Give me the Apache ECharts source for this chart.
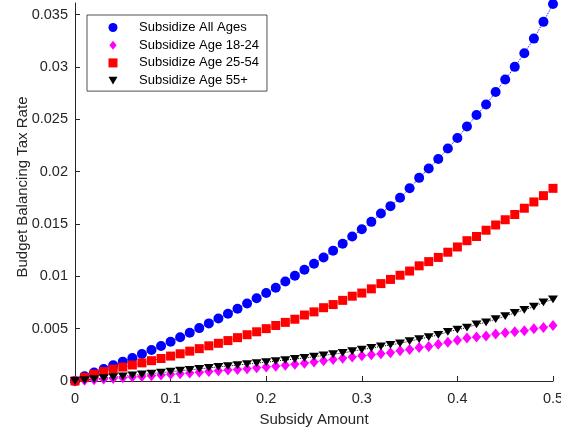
<!DOCTYPE html>
<html>
<head>
<meta charset="utf-8">
<script src="https://cdn.jsdelivr.net/npm/echarts@6/dist/echarts.min.js"></script>
<style>
  html, body { margin: 0; padding: 0; background: #fff; }
  #chart { width: 561px; height: 433px; }
</style>
</head>
<body>
<div id="chart"></div>
<script>
// Subsidy levels (x) and the budget-balancing tax rate for each policy
const subsidy = [0, 0.01, 0.02, 0.03, 0.04, 0.05, 0.06, 0.07, 0.08, 0.09,
  0.10, 0.11, 0.12, 0.13, 0.14, 0.15, 0.16, 0.17, 0.18, 0.19,
  0.20, 0.21, 0.22, 0.23, 0.24, 0.25, 0.26, 0.27, 0.28, 0.29,
  0.30, 0.31, 0.32, 0.33, 0.34, 0.35, 0.36, 0.37, 0.38, 0.39,
  0.40, 0.41, 0.42, 0.43, 0.44, 0.45, 0.46, 0.47, 0.48, 0.49, 0.50];

const allAges = [0, 0.00045, 0.00082, 0.00115, 0.0015, 0.00185, 0.0022, 0.00258, 0.00296, 0.00335,
  0.00374, 0.00417, 0.0046, 0.00505, 0.0055, 0.00597, 0.00643, 0.0069, 0.0074, 0.0079,
  0.0084, 0.0089, 0.0095, 0.01005, 0.01063, 0.0112, 0.0118, 0.01245, 0.0131, 0.0138,
  0.0145, 0.0152, 0.016, 0.0167, 0.0175, 0.0184, 0.0194, 0.0203, 0.0212, 0.0222,
  0.0232, 0.0243, 0.0254, 0.0264, 0.0276, 0.0288, 0.03, 0.0313, 0.0327, 0.0343, 0.036];

const age18to24 = [0, 0.00006, 0.00013, 0.00019, 0.00025, 0.00032, 0.00038, 0.00044, 0.00051, 0.00057,
  0.00064, 0.0007, 0.00077, 0.00083, 0.0009, 0.00097, 0.00104, 0.00111, 0.00118, 0.00126,
  0.00134, 0.00142, 0.0015, 0.0016, 0.0017, 0.00182, 0.00194, 0.00206, 0.00218, 0.0023,
  0.0024, 0.0025, 0.0026, 0.0027, 0.0029, 0.003, 0.0032, 0.0033, 0.0035, 0.0037,
  0.0039, 0.0041, 0.0042, 0.0043, 0.0045, 0.0046, 0.0047, 0.0048, 0.005, 0.0051, 0.0053];

const age25to54 = [0, 0.00035, 0.00065, 0.0009, 0.00113, 0.00133, 0.00153, 0.00173, 0.00194, 0.00215,
  0.00238, 0.0026, 0.00285, 0.00309, 0.00336, 0.0036, 0.00386, 0.00414, 0.00442, 0.0047,
  0.005, 0.0053, 0.0056, 0.0059, 0.0063, 0.0066, 0.007, 0.0073, 0.0077, 0.0081,
  0.0084, 0.0088, 0.0093, 0.0097, 0.0101, 0.0105, 0.011, 0.0114, 0.0118, 0.0123,
  0.0128, 0.0134, 0.0138, 0.0144, 0.0149, 0.0154, 0.0159, 0.0165, 0.0171, 0.0177, 0.0184];

const age55plus = [0, 0.00009, 0.00018, 0.00027, 0.00036, 0.00045, 0.00054, 0.00062, 0.00071, 0.0008,
  0.00089, 0.00098, 0.00107, 0.00116, 0.00125, 0.00134, 0.00143, 0.00152, 0.00161, 0.0017,
  0.0018, 0.0019, 0.002, 0.0021, 0.0022, 0.00232, 0.00244, 0.00256, 0.00268, 0.00284,
  0.003, 0.00315, 0.0033, 0.00345, 0.0036, 0.0038, 0.004, 0.0042, 0.0044, 0.0047,
  0.0049, 0.0051, 0.0054, 0.0056, 0.0059, 0.0062, 0.0065, 0.0068, 0.0071, 0.0075, 0.0078];

const seriesNames = ['Subsidize All Ages', 'Subsidize Age 18-24', 'Subsidize Age 25-54', 'Subsidize Age 55+'];

const xTicks = [0, 0.1, 0.2, 0.3, 0.4, 0.5];
const yTicks = [0, 0.005, 0.01, 0.015, 0.02, 0.025, 0.03, 0.035];

const FONT = '"Liberation Sans", Helvetica, Arial, sans-serif';
const AXIS_COLOR = '#262626';
const DOWN_TRIANGLE = 'path://M0,0L10,0L5,8.66Z';

function pairs(values) {
  return subsidy.map((x, i) => [x, values[i]]);
}

function markerSeries(name, values, color, symbol, size) {
  return {
    name: name,
    type: 'line',
    data: pairs(values),
    symbol: symbol,
    symbolSize: size,
    showSymbol: true,
    showAllSymbol: true,
    symbolKeepAspect: true,
    clip: false,
    itemStyle: { color: color, borderWidth: 0 },
    lineStyle: { color: color, width: 1, type: 'dotted' },
    emphasis: { disabled: true },
    z: 2
  };
}

const chart = echarts.init(document.getElementById('chart'), null, { renderer: 'canvas' });

chart.setOption({
  animation: false,
  backgroundColor: '#fff',
  textStyle: { fontFamily: FONT },
  grid: { left: 75, right: 8, top: 3, bottom: 52, containLabel: false, outerBoundsMode: 'none' },
  legend: {
    orient: 'vertical',
    left: 87,
    top: 15,
    padding: [6, 8, 4, 21.5],
    itemWidth: 9,
    itemHeight: 9,
    itemGap: 4.7,
    backgroundColor: '#fff',
    borderColor: AXIS_COLOR,
    borderWidth: 0.8,
    selectedMode: false,
    textStyle: { fontFamily: FONT, fontSize: 13, color: '#000', padding: [0, 0, 0, 16.5] },
    data: [
      { name: seriesNames[0], icon: 'circle' },
      { name: seriesNames[1], icon: 'path://M4,0L8,5L4,10L0,5Z' },
      { name: seriesNames[2], icon: 'path://M0,0L8,0L8,8L0,8Z' },
      { name: seriesNames[3], icon: DOWN_TRIANGLE }
    ]
  },
  xAxis: {
    type: 'value',
    min: 0,
    max: 0.5,
    interval: 0.1,
    name: 'Subsidy Amount',
    nameLocation: 'middle',
    nameGap: 31,
    nameMoveOverlap: false,
    nameTextStyle: { fontFamily: FONT, fontSize: 15, color: AXIS_COLOR },
    axisLine: { show: true, onZero: false, lineStyle: { color: AXIS_COLOR, width: 1 } },
    axisTick: { show: true, inside: true, length: 5, customValues: xTicks, lineStyle: { color: AXIS_COLOR } },
    axisLabel: { customValues: xTicks, margin: 10, fontFamily: FONT, fontSize: 14.5, color: AXIS_COLOR },
    splitLine: { show: false }
  },
  yAxis: {
    type: 'value',
    min: 0,
    max: 0.0361,
    name: 'Budget Balancing Tax Rate',
    nameLocation: 'middle',
    nameGap: 45,
    nameMoveOverlap: false,
    nameTextStyle: { fontFamily: FONT, fontSize: 15, color: AXIS_COLOR, padding: [0, 0, 0, 10] },
    axisLine: { show: true, onZero: false, lineStyle: { color: AXIS_COLOR, width: 1 } },
    axisTick: { show: true, inside: true, length: 5, customValues: yTicks, lineStyle: { color: AXIS_COLOR } },
    axisLabel: { customValues: yTicks, margin: 7, fontFamily: FONT, fontSize: 14.5, color: AXIS_COLOR },
    splitLine: { show: false }
  },
  series: [
    markerSeries(seriesNames[0], allAges, '#0000ff', 'circle', 10),
    markerSeries(seriesNames[1], age18to24, '#ff00ff', 'diamond', [9, 11]),
    markerSeries(seriesNames[2], age25to54, '#ff0000', 'rect', 9),
    markerSeries(seriesNames[3], age55plus, '#000000', DOWN_TRIANGLE, [10, 9])
  ]
});
</script>
</body>
</html>
